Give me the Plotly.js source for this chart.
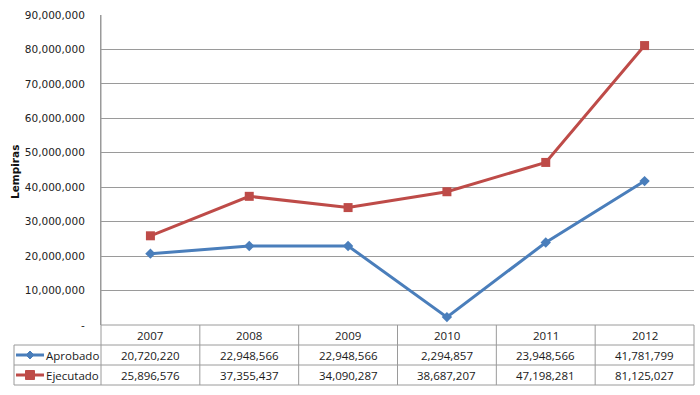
<!DOCTYPE html>
<html><head><meta charset="utf-8">
<script src="https://cdn.plot.ly/plotly-3.0.1.min.js"></script>
<style>html,body{margin:0;padding:0;background:#fff}#c{width:700px;height:395px}</style>
</head><body><div id="c"></div>
<script>
const years = ['2007','2008','2009','2010','2011','2012'];
const aprobado = [20720220, 22948566, 22948566, 2294857, 23948566, 41781799];
const ejecutado = [25896576, 37355437, 34090287, 38687207, 47198281, 81125027];
const seriesNames = ['Aprobado', 'Ejecutado'];
const yTicks = [0,10000000,20000000,30000000,40000000,50000000,60000000,70000000,80000000,90000000];

const fmt = v => v === 0 ? '-' : v.toLocaleString('en-US');
const blue = '#4a7ebb', red = '#be4b48';
const W = 700, H = 395, L = 101, R = 694, T = 15, B = 325;
const pw = R - L, ph = B - T;
const px2x = p => (p - L) / pw;
const py2y = p => (B - p) / ph;
const gridC = '#9a9a9a';
const tfont = {family: 'DejaVu Sans, Verdana, sans-serif', size: 10.5, color: '#222'};
const cfont = {family: 'Open Sans, sans-serif', size: 11.5, color: '#1a1a1a'};

const traces = [
  {x: years, y: aprobado, name: seriesNames[0], type: 'scatter', mode: 'lines+markers',
   line: {color: blue, width: 3}, marker: {symbol: 'diamond', size: 8, color: blue}, cliponaxis: false},
  {x: years, y: ejecutado, name: seriesNames[1], type: 'scatter', mode: 'lines+markers',
   line: {color: red, width: 3}, marker: {symbol: 'square', size: 9, color: red}, cliponaxis: false}
];

const shapes = [], ann = [];
const rowY = [325, 345, 365, 385];
const legL = 14;
const n = years.length;
shapes.push({type:'line', xref:'paper', yref:'paper', x0: 0, x1: 1, y0: py2y(rowY[0]), y1: py2y(rowY[0]), line:{color:gridC, width:1}});
for (let r = 1; r < rowY.length; r++) {
  shapes.push({type:'line', xref:'paper', yref:'paper', x0: px2x(legL), x1: 1, y0: py2y(rowY[r]), y1: py2y(rowY[r]), line:{color:gridC, width:1}});
}
for (let i = 0; i <= n; i++) {
  shapes.push({type:'line', xref:'paper', yref:'paper', x0: i/n, x1: i/n,
    y0: py2y(i === 0 ? T : rowY[0]), y1: py2y(rowY[3]), line:{color:gridC, width:1}});
}
shapes.push({type:'line', xref:'paper', yref:'paper', x0: px2x(legL), x1: px2x(legL), y0: py2y(rowY[1]), y1: py2y(rowY[3]), line:{color:gridC, width:1}});

years.forEach((yr, i) => {
  const cx = (i + 0.5) / n;
  ann.push({xref:'paper', yref:'paper', x: cx, y: py2y((rowY[0]+rowY[1])/2), text: yr, showarrow:false, font: cfont, xanchor:'center', yanchor:'middle'});
  ann.push({xref:'paper', yref:'paper', x: cx, y: py2y((rowY[1]+rowY[2])/2), text: fmt(aprobado[i]), showarrow:false, font: cfont, xanchor:'center', yanchor:'middle'});
  ann.push({xref:'paper', yref:'paper', x: cx, y: py2y((rowY[2]+rowY[3])/2), text: fmt(ejecutado[i]), showarrow:false, font: cfont, xanchor:'center', yanchor:'middle'});
});
[[blue, 'diamond', seriesNames[0]], [red, 'square', seriesNames[1]]].forEach((s, k) => {
  const cy = (rowY[k+1] + rowY[k+2]) / 2;
  shapes.push({type:'line', xref:'paper', yref:'paper', x0: px2x(16), x1: px2x(44), y0: py2y(cy), y1: py2y(cy), line:{color:s[0], width:3}});
  const cx = 30;
  if (s[1] === 'diamond') {
    shapes.push({type:'path', xref:'paper', yref:'paper',
      path: `M ${px2x(cx)} ${py2y(cy-4)} L ${px2x(cx+4)} ${py2y(cy)} L ${px2x(cx)} ${py2y(cy+4)} L ${px2x(cx-4)} ${py2y(cy)} Z`,
      fillcolor: s[0], line:{color:s[0], width:1}});
  } else {
    shapes.push({type:'rect', xref:'paper', yref:'paper', x0: px2x(cx-4.5), x1: px2x(cx+4.5), y0: py2y(cy-4.5), y1: py2y(cy+4.5),
      fillcolor: s[0], line:{color:s[0], width:1}});
  }
  ann.push({xref:'paper', yref:'paper', x: px2x(44), y: py2y(cy), text: s[2], showarrow:false, font: cfont, xanchor:'left', yanchor:'middle'});
});
ann.push({xref:'paper', yref:'paper', x: px2x(15), y: py2y(172), text: '<b>Lempiras</b>', textangle: -90, showarrow:false,
  font: {family: 'DejaVu Sans, Verdana, sans-serif', size: 10.5, color: '#111'}, xanchor:'center', yanchor:'middle'});

const layout = {
  width: W, height: H,
  margin: {l: L, r: W - R, t: T, b: H - B, pad: 0},
  paper_bgcolor: '#ffffff', plot_bgcolor: '#ffffff',
  showlegend: false,
  xaxis: {type: 'category', range: [-0.5, n - 0.5], showticklabels: false, showgrid: false, zeroline: false, showline: false, ticks: ''},
  yaxis: {range: [0, 90000000], tickvals: yTicks, ticktext: yTicks.map(fmt), showgrid: true, gridcolor: gridC, gridwidth: 1,
    zeroline: false, showline: true, linecolor: gridC, linewidth: 1, ticks: '', tickfont: tfont, ticklabelstandoff: 13},
  shapes: shapes, annotations: ann
};
Plotly.newPlot('c', traces, layout, {staticPlot: true, displayModeBar: false});
</script></body></html>
